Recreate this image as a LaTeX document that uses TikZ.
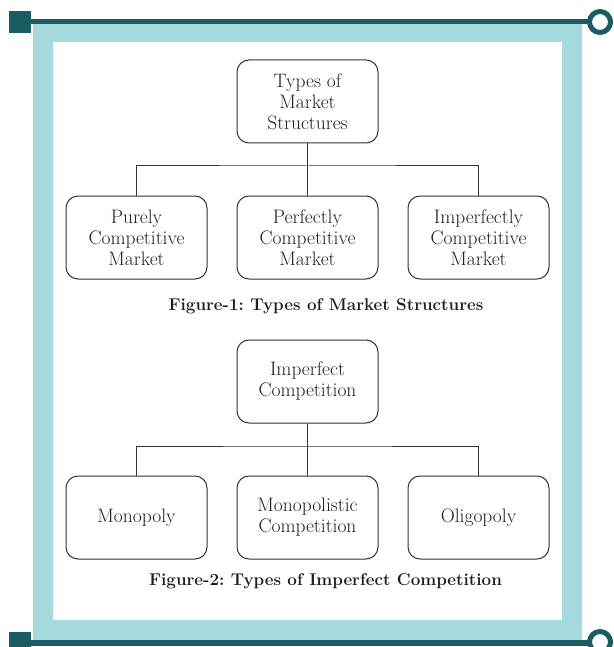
\documentclass[tikz,border=0pt]{standalone}
\usepackage{fontspec}
\definecolor{bandteal}{HTML}{A5DBDC}
\definecolor{darkteal}{HTML}{1A5C61}
\definecolor{boxline}{HTML}{333333}
\definecolor{ink}{HTML}{1E1E1E}
\frenchspacing
\begin{document}
\begin{tikzpicture}[x=1pt,y=-1pt,
  chartbox/.style={draw=boxline,line width=1pt,rounded corners=12pt,
    minimum width=141pt,minimum height=83pt,inner sep=0pt,align=center,
    text=ink,font=\fontsize{19.5}{21}\selectfont},
  caption/.style={inner sep=0pt,text=ink,font=\bfseries\fontsize{17}{20}\selectfont},
  link/.style={draw=boxline,line width=1pt}]
\useasboundingbox (0,0) rectangle (613,647);
% light frame band
\fill[bandteal,even odd rule] (33,24) rectangle (582,640) (53,42) rectangle (562,620);
% dark rails with square and ring ends
\fill[darkteal] (31,19) rectangle (588,24.5);
\fill[darkteal] (31,640) rectangle (588,645.5);
\fill[darkteal] (9,11) rectangle (31,33);
\fill[darkteal] (9,632) rectangle (31,650);
\draw[darkteal,line width=5pt,fill=white] (600,22) circle (10.5);
\draw[darkteal,line width=5pt,fill=white] (600,642) circle (10.5);

% Figure 1
\node[chartbox] (mkt) at (307.5,101.5) {Types of\\Market\\Structures};
\node[chartbox] (pure) at (136.5,237.5) {Purely\\Competitive\\Market};
\node[chartbox] (perf) at (307.5,237.5) {Perfectly\\Competitive\\Market};
\node[chartbox] (imp) at (478.5,237.5) {Imperfectly\\Competitive\\Market};
\coordinate (j1) at (307.5,166);
\draw[link] (mkt.south) -- (j1) -- (perf.north);
\draw[link] (pure.north) |- (j1) -| (imp.north);
\node[caption] (cap1) at (326,306) {Figure-1: Types of Market Structures};

% Figure 2
\node[chartbox] (ic) at (307.5,381.5) {Imperfect\\Competition};
\node[chartbox] (mono) at (136.5,517.5) {Monopoly};
\node[chartbox] (monc) at (307.5,517.5) {Monopolistic\\Competition};
\node[chartbox] (olig) at (478.5,517.5) {Oligopoly};
\coordinate (j2) at (307.5,446);
\draw[link] (ic.south) -- (j2) -- (monc.north);
\draw[link] (mono.north) |- (j2) -| (olig.north);
\node[caption] (cap2) at (325.5,581) {Figure-2: Types of Imperfect Competition};
\end{tikzpicture}
\end{document}
